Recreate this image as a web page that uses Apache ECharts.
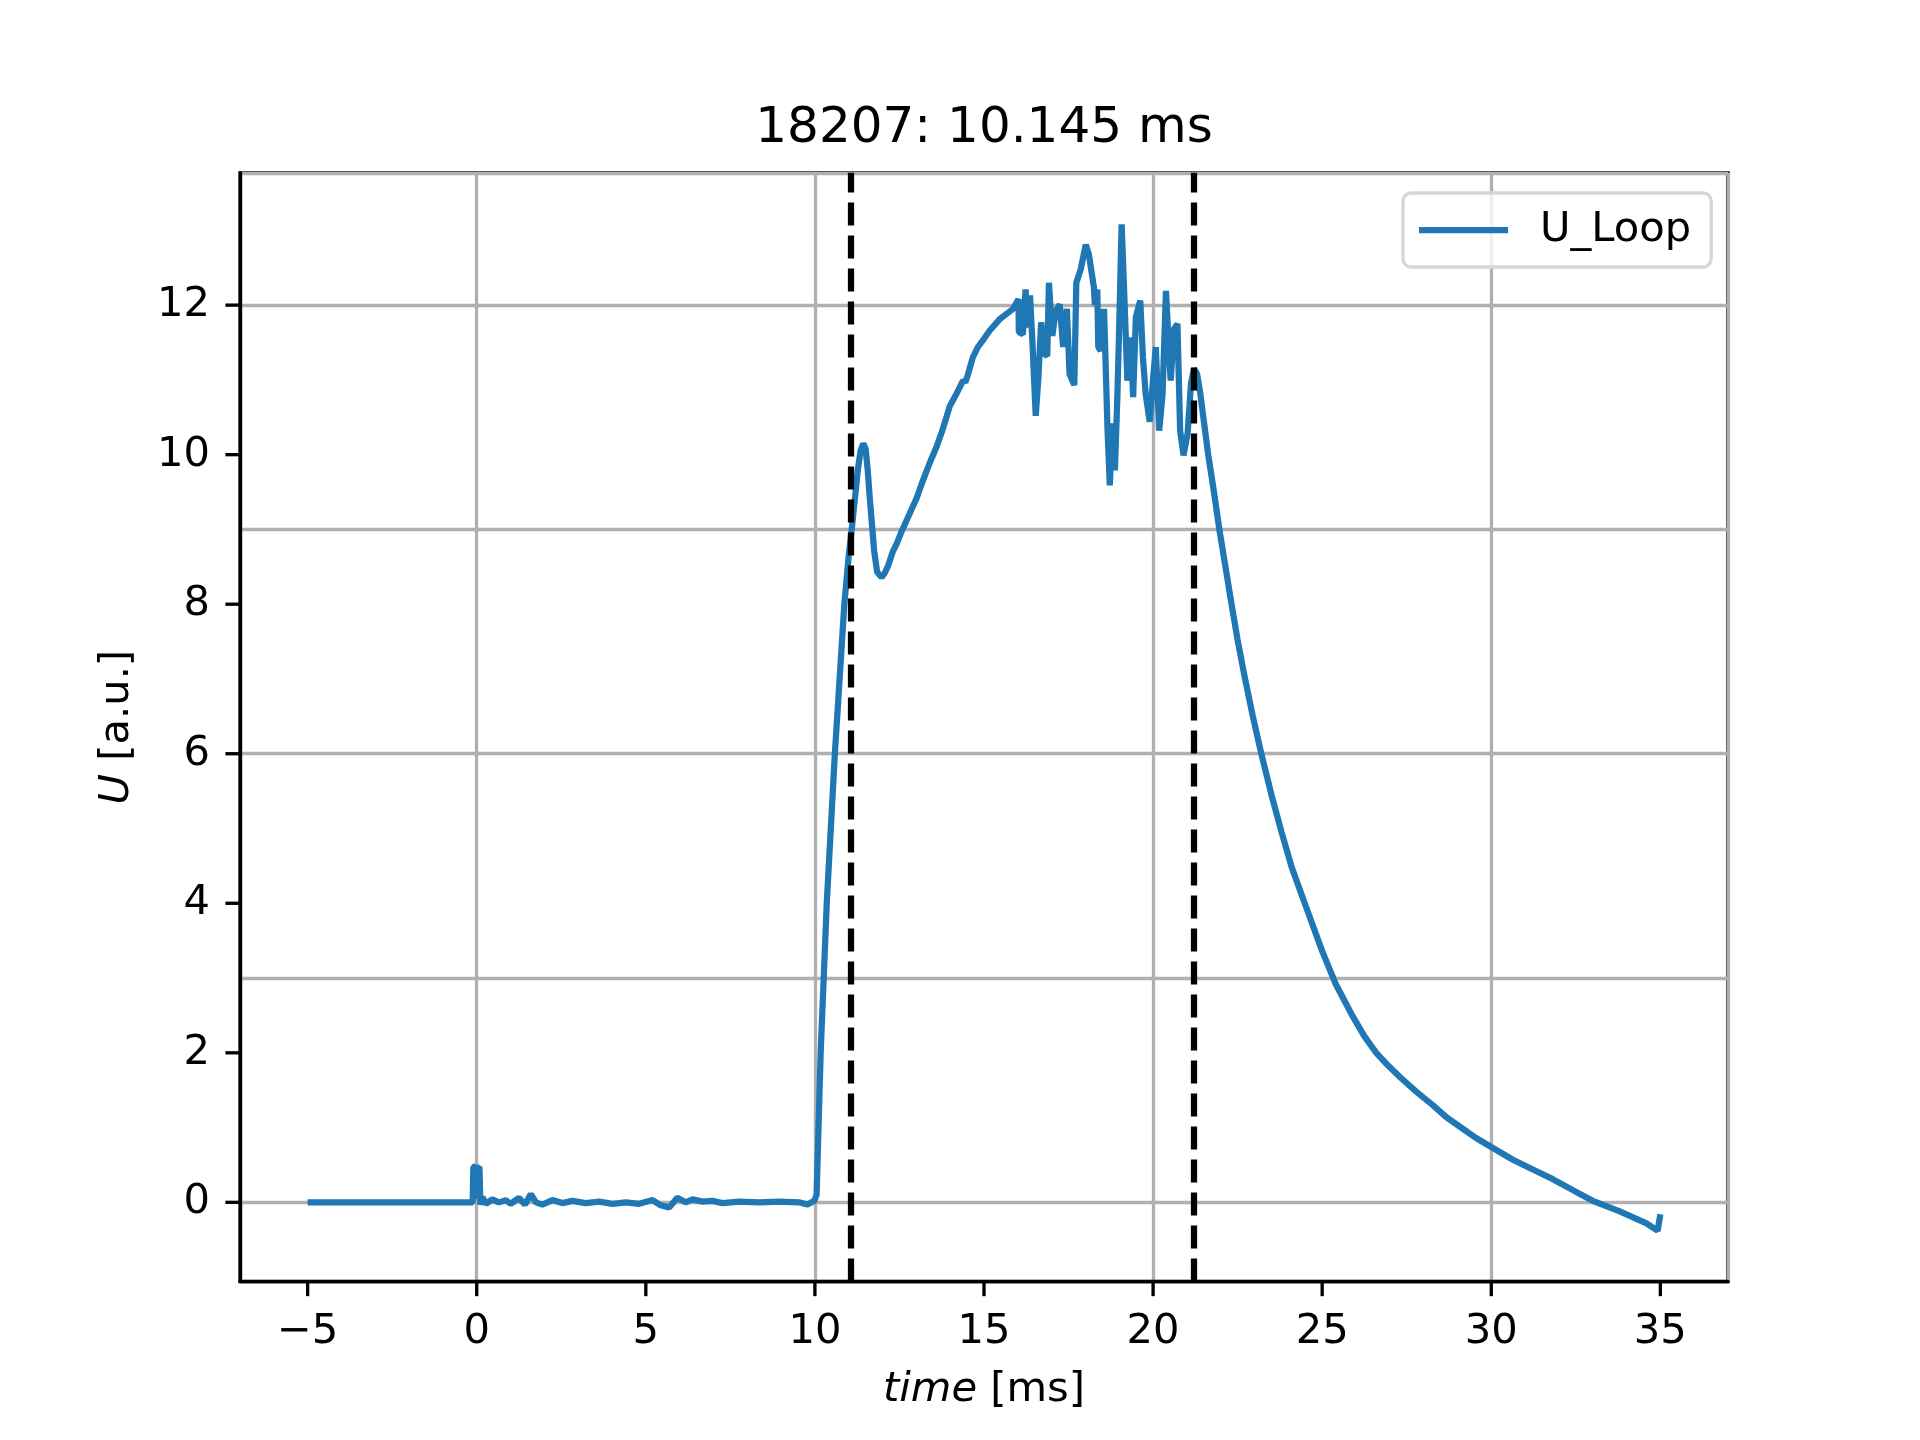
<!DOCTYPE html>
<html>
<head>
<meta charset="utf-8">
<title>18207: 10.145 ms</title>
<script src="https://cdn.jsdelivr.net/npm/echarts@6/dist/echarts.min.js"></script>
<style>
    html, body { margin: 0; padding: 0; background: #fff; }
    #chart_js { width: 1920px; height: 1440px; }
</style>
</head>
<body>
<div id="chart_js"></div>
<script>
// 数据: time [ms] / U_Loop
var timeMs = [
    -5, -0.12, -0.1, -0.04, -0.01, 0.02, 0.08, 0.11,
    0.17, 0.27, 0.46, 0.66, 0.86, 1.0, 1.25, 1.43, 1.6, 1.75, 1.94, 2.24,
    2.53, 2.83, 3.22, 3.62, 4.01, 4.41, 4.8, 5.2, 5.44, 5.69, 5.93, 6.18,
    6.38, 6.68, 6.97, 7.27, 7.76, 8.35, 8.94, 9.53, 9.78, 9.98,
    10.02, 10.05, 10.1, 10.17, 10.26, 10.35, 10.47, 10.59, 10.73, 10.87,
    11.0, 11.1, 11.18, 11.27, 11.35, 11.43, 11.5, 11.56, 11.63, 11.7,
    11.75, 11.84, 11.97, 12.07, 12.17, 12.3, 12.42, 12.56, 12.71, 12.86,
    13.01, 13.15, 13.3, 13.45, 13.6, 13.75, 13.89, 13.98, 14.18, 14.38,
    14.45, 14.53, 14.67, 14.82, 15.0, 15.17, 15.46, 15.86, 16.02,
    16.03, 16.15, 16.23, 16.29, 16.36, 16.43, 16.53, 16.61, 16.69, 16.78,
    16.87, 16.92, 17.02, 17.12, 17.24, 17.34, 17.45, 17.53, 17.67, 17.73,
    17.86, 18.01, 18.1, 18.25, 18.28, 18.35, 18.38, 18.45, 18.55, 18.65,
    18.72, 18.8, 18.87, 18.94, 18.99, 19.07, 19.14, 19.24, 19.34, 19.41,
    19.49, 19.62, 19.7, 19.78, 19.9, 19.98, 20.08, 20.18, 20.28, 20.38,
    20.52, 20.62, 20.72, 20.8, 20.9, 21.02, 21.12, 21.21,
    21.3, 21.39, 21.5, 21.63, 21.8, 21.96, 22.14, 22.32, 22.5, 22.72,
    22.95, 23.2, 23.5, 23.8, 24.1, 24.5, 25.0, 25.4, 25.9, 26.25,
    26.6, 26.95, 27.29, 27.78, 28.27, 28.67, 29.11, 29.55, 30.0, 30.64,
    31.23, 31.82, 32.51, 33.0, 33.8, 34.59, 34.86, 34.92, 35.0
];
var uLoop = [
    0, 0, 0.47, 0.48, 0.05, 0.46, 0.47, -0.03,
    0.07, -0.02, 0.04, 0, 0.03, -0.02, 0.06, -0.03, 0.11, 0, -0.03, 0.03,
    -0.01, 0.02, -0.01, 0.01, -0.02, 0, -0.02, 0.03, -0.04, -0.07, 0.06, 0,
    0.04, 0.01, 0.02, -0.01, 0.01, 0, 0.01, 0, -0.03, 0.02,
    0.03, 0.1, 0.9, 2.0, 3.0, 4.0, 5.0, 6.0, 7.0, 8.0,
    8.65, 9.05, 9.4, 9.8, 10.05, 10.15, 10.08, 9.8, 9.38, 9.0,
    8.72, 8.43, 8.36, 8.42, 8.52, 8.7, 8.81, 8.97, 9.12, 9.27,
    9.42, 9.6, 9.78, 9.95, 10.11, 10.3, 10.5, 10.64, 10.81, 10.99,
    10.97, 11.08, 11.3, 11.44, 11.55, 11.66, 11.81, 11.95, 12.08,
    11.64, 11.61, 12.21, 11.7, 12.13, 11.52, 10.52, 11.04, 11.77, 11.35,
    11.32, 12.3, 11.59, 11.92, 12.01, 11.44, 11.95, 11.08, 10.93, 12.3,
    12.48, 12.81, 12.68, 12.24, 12.0, 12.21, 11.44, 11.39, 11.95, 10.37,
    9.59, 10.42, 9.79, 10.72, 11.57, 13.08, 12.24, 10.99, 11.57, 10.77,
    11.84, 12.06, 11.3, 10.81, 10.44, 10.9, 11.44, 10.32, 10.81, 12.19,
    10.99, 11.68, 11.75, 10.32, 9.99, 10.28, 10.95, 11.15,
    11.08, 10.84, 10.45, 10.0, 9.5, 9.0, 8.5, 8.0, 7.52, 7.0,
    6.5, 6.0, 5.45, 4.95, 4.48, 3.98, 3.36, 2.92, 2.49, 2.22,
    2.0, 1.83, 1.68, 1.48, 1.3, 1.14, 1.0, 0.86, 0.74, 0.57,
    0.44, 0.31, 0.14, 0.02, -0.12, -0.28, -0.36, -0.38, -0.16
];
// 虚线位置 (两个时间点)
var markTimes = [11.07, 21.215];
var xTicks = [-5, 0, 5, 10, 15, 20, 25, 30, 35];
var yTicks = [0, 2, 4, 6, 8, 10, 12];
var xRange = [-7, 37];
var yRange = [-1.06, 13.77];

var FONT = 'DejaVu Sans';
var PT = 300 / 72; // matplotlib 300dpi
var fs = 10 * PT;
var lw = 0.8 * PT;
var tickLen = 3.5 * PT;

function minus(v) {
    return String(v).replace('-', '\u2212');
}

// 坐标轴通用样式
function axisStyle(ticks, name, gap) {
    return {
        type: 'value',
        name: name,
        nameLocation: 'middle',
        nameGap: gap,
        nameTextStyle: {
            fontFamily: FONT,
            fontSize: fs,
            color: '#000',
            rich: {
                i: { fontFamily: FONT, fontSize: fs, fontStyle: 'italic', color: '#000' }
            }
        },
        axisLine: { show: true, onZero: false, lineStyle: { color: '#000', width: lw } },
        axisTick: { show: false },
        axisLabel: {
            customValues: ticks,
            margin: 30,
            fontFamily: FONT,
            fontSize: fs,
            color: '#000',
            formatter: minus
        },
        splitLine: { show: true, lineStyle: { color: '#b0b0b0', width: lw } }
    };
}

var xAxis = axisStyle(xTicks, '{i|time} [ms]', 88);
xAxis.min = xRange[0];
xAxis.max = xRange[1];
var yAxis = axisStyle(yTicks, '{i|U} [a.u.]', 102);
yAxis.min = yRange[0];
yAxis.max = yRange[1];
yAxis.nameRotate = 90;

var points = timeMs.map(function(t, i) {
    return [t, uLoop[i]];
});

// 刻度线 (轴外侧), 由坐标系换算位置
function tickSeries(data, dx, dy) {
    return {
        type: 'custom',
        silent: true,
        clip: false,
        z: 5,
        data: data,
        renderItem: function(params, api) {
            var p = api.coord([api.value(0), api.value(1)]);
            return {
                type: 'line',
                shape: { x1: p[0], y1: p[1], x2: p[0] + dx, y2: p[1] + dy },
                style: { stroke: '#000', lineWidth: lw }
            };
        }
    };
}

var chart = echarts.init(document.getElementById('chart_js'));
chart.setOption({
    animation: false,
    graphic: [{
        type: 'text',
        x: 984,
        y: 129,
        style: {
            text: '18207: 10.145 ms',
            fill: '#000',
            font: (12 * PT) + 'px "' + FONT + '"',
            align: 'center',
            verticalAlign: 'middle'
        }
    }],
    grid: { left: 240, right: 192, top: 172.8, bottom: 158.4, show: true, borderColor: '#000', borderWidth: lw },
    legend: {
        data: ['U_Loop'],
        left: 1403,
        top: 193,
        icon: 'rect',
        itemWidth: 89,
        itemHeight: 1.5 * PT,
        padding: [16, 20, 16, 16],
        backgroundColor: 'rgba(255,255,255,0.8)',
        borderColor: '#d6d6d6',
        borderWidth: lw,
        borderRadius: 8,
        textStyle: {
            fontFamily: FONT,
            fontSize: fs,
            color: '#000',
            lineHeight: 42,
            padding: [0, 0, 0, 27]
        }
    },
    xAxis: xAxis,
    yAxis: yAxis,
    series: [{
        name: 'U_Loop',
        type: 'line',
        data: points,
        symbol: 'none',
        itemStyle: { color: '#1f77b4' },
        lineStyle: { color: '#1f77b4', width: 1.5 * PT },
        markLine: {
            silent: true,
            symbol: ['none', 'none'],
            label: { show: false },
            lineStyle: { color: '#000', width: 1.5 * PT, type: [23, 10] },
            data: markTimes.map(function(t) {
                return { xAxis: t };
            })
        }
    },
    tickSeries(xTicks.map(function(t) { return [t, yRange[0]]; }), 0, tickLen),
    tickSeries(yTicks.map(function(v) { return [xRange[0], v]; }), -tickLen, 0)
    ]
});
</script>
</body>
</html>
